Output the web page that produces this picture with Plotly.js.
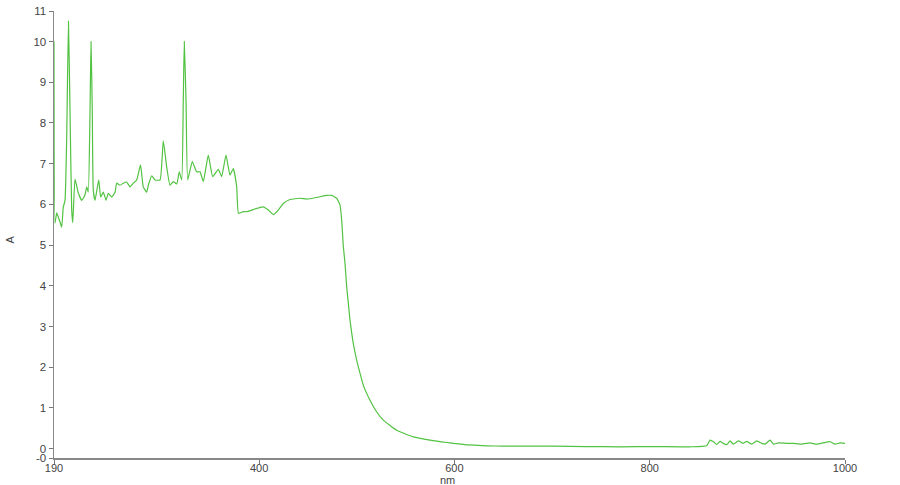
<!DOCTYPE html>
<html>
<head>
<meta charset="utf-8">
<script src="https://cdn.plot.ly/plotly-3.0.1.min.js"></script>
<style>
  html, body { margin: 0; padding: 0; background: #fff; }
  #chart { width: 900px; height: 485px; }
</style>
</head>
<body>
<div id="chart"></div>
<script>
// Wavelength (nm)
const wavelength = [
  190.0, 191.0, 192.8, 194.4, 196.1, 197.9, 199.5, 201.3, 203.0, 204.8,
  206.4, 208.1, 209.2, 211.5, 214.9, 218.4, 221.7, 223.5, 225.1, 226.9,
  227.9, 229.2, 230.2, 232.0, 235.8, 237.8, 240.5, 243.3, 245.6, 249.1,
  252.5, 254.2, 257.6, 261.0, 264.4, 267.8, 271.2, 274.7, 278.6, 281.4,
  284.9, 286.6, 290.1, 293.4, 298.6, 301.9, 305.4, 308.8, 312.2, 315.7,
  318.3, 320.8, 322.4, 323.4, 325.2, 326.9, 331.6, 336.1, 339.5, 342.9,
  348.0, 352.5, 358.3, 361.7, 366.1, 370.2, 373.6, 377.1, 378.9, 383.9,
  387.3, 397.6, 404.3, 409.5, 414.6, 419.7, 424.8, 431.7, 441.9, 448.8,
  459.0, 469.3, 474.4, 479.5, 482.9, 484.6, 486.3, 488.0, 489.7, 491.4,
  493.1, 494.9, 496.5, 500.0, 503.4, 506.7, 513.6, 520.5, 527.2, 540.9,
  558.0, 575.0, 592.1, 598.9, 616.0, 633.1, 649.8, 701.0, 735.5, 769.6,
  803.4, 841.3, 858.4, 861.8, 865.2, 868.6, 872.0, 875.4, 878.9, 882.3,
  885.7, 890.8, 895.9, 899.4, 904.5, 909.6, 914.7, 918.1, 923.3, 926.7,
  931.8, 940.4, 947.1, 954.0, 964.2, 971.0, 977.8, 984.7, 989.8, 994.9,
  1000.0
];
// Absorbance (A)
const absorbance = [
  10.0, 5.54, 5.79, 5.69, 5.57, 5.44, 5.93, 6.10, 7.66, 10.50,
  8.30, 5.86, 5.55, 6.62, 6.28, 6.10, 6.23, 6.43, 6.30, 8.32,
  10.00, 8.30, 6.35, 6.10, 6.60, 6.18, 6.30, 6.10, 6.27, 6.18,
  6.30, 6.52, 6.47, 6.52, 6.55, 6.43, 6.52, 6.60, 6.97, 6.43,
  6.30, 6.47, 6.70, 6.60, 6.60, 7.56, 6.92, 6.47, 6.56, 6.50,
  6.80, 6.60, 8.56, 10.00, 8.56, 6.60, 7.05, 6.80, 6.80, 6.56,
  7.21, 6.68, 6.86, 6.68, 7.21, 6.72, 6.88, 6.43, 5.78, 5.82,
  5.82, 5.90, 5.94, 5.86, 5.75, 5.86, 6.02, 6.12, 6.15, 6.13,
  6.17, 6.22, 6.22, 6.15, 5.98, 5.61, 4.96, 4.55, 3.98, 3.57,
  3.16, 2.83, 2.58, 2.17, 1.85, 1.56, 1.19, 0.90, 0.70, 0.45,
  0.29, 0.21, 0.15, 0.13, 0.09, 0.07, 0.06, 0.06, 0.05, 0.045,
  0.05, 0.045, 0.07, 0.21, 0.17, 0.10, 0.18, 0.13, 0.10, 0.19,
  0.11, 0.19, 0.13, 0.18, 0.11, 0.19, 0.13, 0.11, 0.21, 0.11,
  0.14, 0.13, 0.13, 0.11, 0.14, 0.11, 0.14, 0.17, 0.11, 0.14,
  0.13
];
const xTickVals = [190, 400, 600, 800, 1000];
const xTickText = ["190", "400", "600", "800", "1000"];
const yTickVals = [-0.23, 0, 1, 2, 3, 4, 5, 6, 7, 8, 9, 10, 10.75];
const yTickText = ["-0", "0", "1", "2", "3", "4", "5", "6", "7", "8", "9", "10", "11"];
const xTitle = "nm";
const yTitle = "A";

const trace = {
  x: wavelength,
  y: absorbance,
  type: 'scatter',
  mode: 'lines',
  line: { color: '#52c242', width: 1.2, shape: 'spline', smoothing: 0.4 },
  hoverinfo: 'x+y'
};

const axisFont = { family: 'Liberation Sans, Arial, sans-serif', size: 11, color: '#444' };
const tickFont = { family: 'Liberation Sans, Arial, sans-serif', size: 11.5, color: '#444' };
const xTickFont = { family: 'Liberation Sans, Arial, sans-serif', size: 11, color: '#444' };

const layout = {
  width: 900,
  height: 485,
  margin: { l: 54, r: 55, t: 11, b: 27, pad: 0 },
  paper_bgcolor: '#ffffff',
  plot_bgcolor: '#ffffff',
  showlegend: false,
  font: axisFont,
  xaxis: {
    range: [190, 1000],
    tickvals: xTickVals,
    ticktext: xTickText,
    ticks: 'outside',
    ticklen: 4,
    tickcolor: '#777',
    ticklabelstandoff: -5,
    showline: true,
    linecolor: '#888',
    linewidth: 1.5,
    showgrid: false,
    zeroline: false,
    tickfont: xTickFont,
    automargin: false
  },
  yaxis: {
    range: [-0.23, 10.75],
    tickvals: yTickVals,
    ticktext: yTickText,
    ticks: 'outside',
    ticklen: 4,
    tickcolor: '#777',
    showline: true,
    linecolor: '#888',
    linewidth: 1.5,
    showgrid: false,
    zeroline: false,
    tickfont: tickFont,
    automargin: false
  },
  annotations: [
    {
      text: xTitle, xref: 'paper', yref: 'paper',
      x: 0.498, y: -0.0335, xanchor: 'center', yanchor: 'top',
      showarrow: false, font: axisFont, borderpad: 0
    },
    {
      text: yTitle, xref: 'paper', yref: 'paper',
      x: -0.056, y: 0.488, xanchor: 'center', yanchor: 'middle',
      textangle: -90, showarrow: false, font: axisFont
    }
  ]
};

Plotly.newPlot('chart', [trace], layout, { displayModeBar: false, staticPlot: true });
</script>
</body>
</html>
